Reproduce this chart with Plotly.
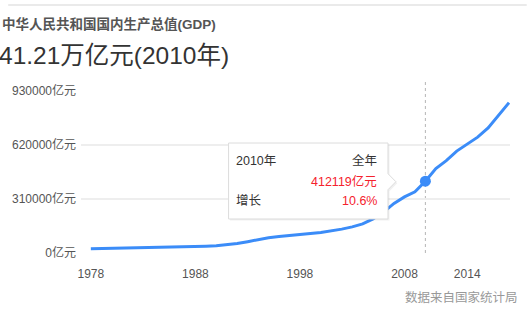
import plotly.graph_objects as go

years = list(range(1978, 2019))
gdp = [25000, 26000, 27000, 28000, 29000, 30000, 30500, 31000, 33000, 35000,
       37000, 39000, 41000, 46000, 54000, 65000, 77000, 88000, 95000, 102000,
       107000, 112000, 118000, 127000, 137000, 150000, 167000, 196000, 235000, 285000,
       322000, 351000, 412119, 485000, 530000, 585000, 625000, 665000, 718000, 790000,
       863000]
x_ticks = [1978, 1988, 1998, 2008, 2014]
y_ticks = [0, 310000, 620000, 930000]
y_ticktext = [f"{v}亿元" for v in y_ticks]
hl_year = 2010
hl_value = 412119
hl_growth = "10.6%"

W, H = 527, 318
L, R, T, B = 74, 510, 91, 253  # plot area in pixels


def px(x):
    return (x - L) / (R - L)


def py(y):
    return (B - y) / (B - T)


FONT = "Liberation Sans, Arial, Noto Sans CJK SC, sans-serif"
BLUE = "#3b8cf8"
RED = "#f5222d"

fig = go.Figure()
fig.add_trace(go.Scatter(x=years, y=gdp, mode="lines",
                         line=dict(color=BLUE, width=3), hoverinfo="skip"))
fig.add_trace(go.Scatter(x=[hl_year], y=[hl_value], mode="markers",
                         marker=dict(color=BLUE, size=11), hoverinfo="skip"))

x0 = 1978 - (84 - L) / 10.625
x1 = 2018 + (R - 509) / 10.625

fig.update_layout(
    width=W, height=H,
    margin=dict(l=L, r=W - R, t=T, b=H - B),
    paper_bgcolor="white", plot_bgcolor="white",
    showlegend=False,
    font=dict(family=FONT, size=12, color="#555"),
    xaxis=dict(range=[x0, x1], tickvals=x_ticks, ticktext=[str(v) for v in x_ticks],
               showgrid=False, zeroline=False, showline=False, ticks="",
               tickfont=dict(size=12, color="#555"), ticklabelstandoff=12),
    yaxis=dict(range=[0, 930000], tickvals=y_ticks, ticktext=y_ticktext,
               showgrid=True, gridcolor="#eeeeee", gridwidth=1.5, zeroline=False,
               showline=False, ticks="", tickfont=dict(size=12, color="#555"),
               ticklabelstandoff=4),
)

shapes = []
# top border line
shapes.append(dict(type="line", xref="paper", yref="paper", x0=px(0), x1=px(W),
                   y0=py(5), y1=py(5), line=dict(color="#e3e3e3", width=1.5)))
# vertical dotted line at highlighted year
shapes.append(dict(type="line", xref="x", yref="paper", x0=hl_year, x1=hl_year,
                   y0=0, y1=py(82), line=dict(color="#b5b5b5", width=1, dash="dot"),
                   layer="below"))
# tooltip box with arrow (shadow + box)
bl, bt, br, bb = 224, 143, 386, 219
ay = 181.7
def box_path(off):
    pts = [(bl + off, bt + off), (br + off, bt + off), (br + off, ay - 8 + off),
           (br + 8 + off, ay + off), (br + off, ay + 8 + off), (br + off, bb + off),
           (bl + off, bb + off)]
    return "M " + " L ".join(f"{px(a):.5f},{py(b):.5f}" for a, b in pts) + " Z"
shapes.append(dict(type="path", xref="paper", yref="paper", path=box_path(1.5),
                   fillcolor="rgba(0,0,0,0.06)", line=dict(width=0)))
shapes.append(dict(type="path", xref="paper", yref="paper", path=box_path(0),
                   fillcolor="white", line=dict(color="#dcdcdc", width=1)))
fig.update_layout(shapes=shapes)

anns = []
def text(t, x, y, size, color, xanchor="left", bold=False):
    anns.append(dict(text=f"<b>{t}</b>" if bold else t, xref="paper", yref="paper",
                     x=px(x), y=py(y), xanchor=xanchor, yanchor="middle",
                     showarrow=False, font=dict(family=FONT, size=size, color=color)))

text("中华人民共和国国内生产总值(GDP)", -8, 24, 13.5, "#555", bold=True)
text(f"{hl_value/10000:.2f}万亿元({hl_year}年)", -11, 55.5, 24.5, "#333")
text(f"{hl_year}年", 230, 160.7, 12.5, "#333")
text("全年", 377, 160.7, 12.5, "#333", xanchor="right")
text(f"{hl_value}亿元", 377, 181.7, 12.5, RED, xanchor="right")
text("增长", 230, 200.7, 12.5, "#333")
text(hl_growth, 377, 200.7, 12.5, RED, xanchor="right")
text("数据来自国家统计局", 520, 297.5, 12.5, "#999", xanchor="right")
fig.update_layout(annotations=anns)

fig.write_html("out.html")
